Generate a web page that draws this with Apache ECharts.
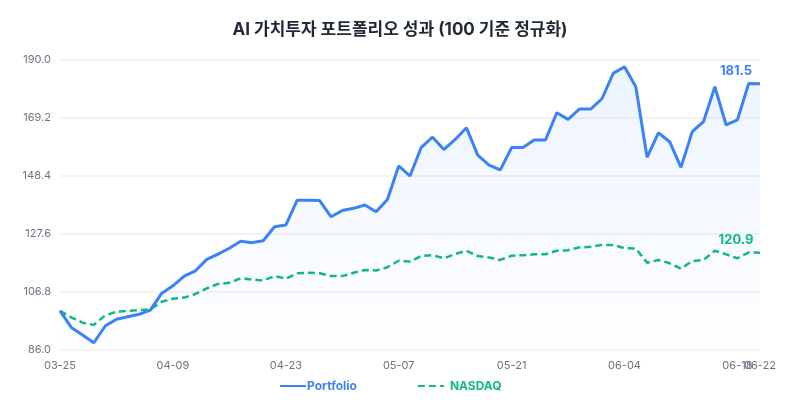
<!DOCTYPE html>
<html>
<head>
<meta charset="utf-8">
<script src="https://cdn.jsdelivr.net/npm/echarts@6/dist/echarts.min.js"></script>
<style>
html,body{margin:0;padding:0;background:#fff;}
#chart{width:800px;height:400px;}
</style>
</head>
<body>
<div id="chart"></div>
<script>
var titleText = 'AI 가치투자 포트폴리오 성과 (100 기준 정규화)';
var dates = ['03-25','03-26','03-27','03-28','04-01','04-02','04-03','04-04','04-05','04-08',
  '04-09','04-10','04-11','04-12','04-15','04-16','04-17','04-18','04-19','04-22',
  '04-23','04-24','04-25','04-26','04-29','04-30','05-01','05-02','05-03','05-06',
  '05-07','05-08','05-09','05-10','05-13','05-14','05-15','05-16','05-17','05-20',
  '05-21','05-22','05-23','05-24','05-27','05-28','05-29','05-30','05-31','06-03',
  '06-04','06-05','06-06','06-07','06-10','06-11','06-12','06-13','06-14','06-17',
  '06-18','06-20','06-22'];
var portfolio = [100.0, 94.1, 91.4, 88.6, 94.6, 97.0, 97.9, 98.8, 100.3, 106.3,
  109.0, 112.5, 114.4, 118.5, 120.4, 122.5, 125.0, 124.5, 125.2, 130.2,
  130.8, 139.7, 139.7, 139.6, 133.8, 136.0, 136.8, 138.0, 135.6, 140.0,
  152.0, 148.4, 158.7, 162.3, 157.9, 161.5, 165.7, 155.9, 152.3, 150.6,
  158.6, 158.6, 161.3, 161.3, 171.1, 168.7, 172.4, 172.4, 176.1, 185.2,
  187.6, 180.4, 155.1, 163.9, 160.7, 151.5, 164.3, 167.9, 180.4, 166.7,
  168.5, 181.6, 181.5];
var nasdaq = [100.0, 97.7, 95.8, 95.0, 98.4, 99.7, 100.0, 100.3, 100.6, 103.3,
  104.4, 104.8, 106.1, 108.1, 109.7, 110.1, 111.7, 111.3, 110.9, 112.5,
  111.6, 113.5, 113.7, 113.5, 112.5, 112.5, 113.7, 114.7, 114.5, 115.7,
  118.0, 117.7, 119.7, 120.0, 118.9, 120.4, 121.6, 119.7, 119.2, 118.3,
  119.8, 120.0, 120.3, 120.3, 121.6, 121.8, 122.8, 123.0, 123.7, 123.7,
  122.5, 122.4, 117.3, 118.3, 117.1, 115.2, 117.9, 118.3, 121.6, 120.3,
  118.9, 121.0, 120.9];
var yMin = 86, yMax = 190, yStep = 20.8;
var seriesNames = ['Portfolio', 'NASDAQ'];
var blue = '#3b82f6', green = '#10b981';
var FONT = "Inter, 'Noto Sans CJK KR', sans-serif";

var chart = echarts.init(document.getElementById('chart'), null, {renderer: 'canvas'});
var lastIdx = dates.length - 1;
var xLabelStyle = {color: '#6b7280', fontSize: 11, margin: 10, fontFamily: FONT};
chart.setOption({
  backgroundColor: '#ffffff',
  animation: false,
  textStyle: {fontFamily: FONT},
  title: {
    text: titleText, left: 'center', top: 16,
    textStyle: {fontFamily: FONT, fontSize: 17, fontWeight: 'bold', color: '#1f2937'}
  },
  legend: {
    bottom: 3, left: 274, itemWidth: 26, itemHeight: 10, itemGap: 60,
    itemStyle: {opacity: 0},
    data: [
      {name: seriesNames[0], textStyle: {color: blue, padding: [0, 0, 0, -4]}},
      {name: seriesNames[1], textStyle: {color: green, padding: [0, 0, 0, 1]}}
    ],
    textStyle: {fontFamily: FONT, fontSize: 12, fontWeight: 'bold'}
  },
  grid: {left: 60, right: 40, top: 60, bottom: 50},
  xAxis: [
    {
      type: 'category', data: dates, boundaryGap: false, position: 'bottom',
      axisLine: {show: false}, axisTick: {show: false},
      axisLabel: Object.assign({
        interval: function (i) { return i % 10 === 0; }
      }, xLabelStyle)
    },
    {
      type: 'category', data: dates, boundaryGap: false, position: 'bottom', offset: 0,
      axisLine: {show: false}, axisTick: {show: false}, splitLine: {show: false},
      axisLabel: Object.assign({
        interval: function (i) { return i === lastIdx; },
        showMaxLabel: true
      }, xLabelStyle)
    }
  ],
  yAxis: {
    type: 'value', min: yMin, max: yMax, interval: yStep,
    axisLine: {show: false}, axisTick: {show: false},
    axisLabel: {color: '#6b7280', fontSize: 11, margin: 9, fontFamily: FONT,
      formatter: function (v) { return v.toFixed(1); }},
    splitLine: {lineStyle: {color: '#efeff1', width: 1.5}}
  },
  series: [
    {
      name: seriesNames[0], type: 'line', data: portfolio, symbol: 'none', xAxisIndex: 0,
      lineStyle: {color: blue, width: 3}, itemStyle: {color: blue},
      areaStyle: {color: new echarts.graphic.LinearGradient(0, 0, 0, 1, [
        {offset: 0, color: 'rgba(59,130,246,0.13)'},
        {offset: 1, color: 'rgba(59,130,246,0.01)'}
      ])},
      markPoint: {
        symbol: 'circle', symbolSize: 0, silent: true,
        data: [{coord: [lastIdx, portfolio[lastIdx]], value: portfolio[lastIdx]}],
        label: {show: true, position: 'top', distance: 6, offset: [-24, 0], color: blue,
          fontSize: 13, fontWeight: 'bold', fontFamily: FONT,
          formatter: function (p) { return p.value.toFixed(1); }}
      },
      z: 3
    },
    {
      name: seriesNames[1], type: 'line', data: nasdaq, symbol: 'none', xAxisIndex: 0,
      lineStyle: {color: green, width: 2.5, type: [7, 4]}, itemStyle: {color: green},
      markPoint: {
        symbol: 'circle', symbolSize: 0, silent: true,
        data: [{coord: [lastIdx, nasdaq[lastIdx]], value: nasdaq[lastIdx]}],
        label: {show: true, position: 'top', distance: 6, offset: [-24, 0], color: green,
          fontSize: 13, fontWeight: 'bold', fontFamily: FONT,
          formatter: function (p) { return p.value.toFixed(1); }}
      },
      z: 2
    }
  ]
});
</script>
</body>
</html>
